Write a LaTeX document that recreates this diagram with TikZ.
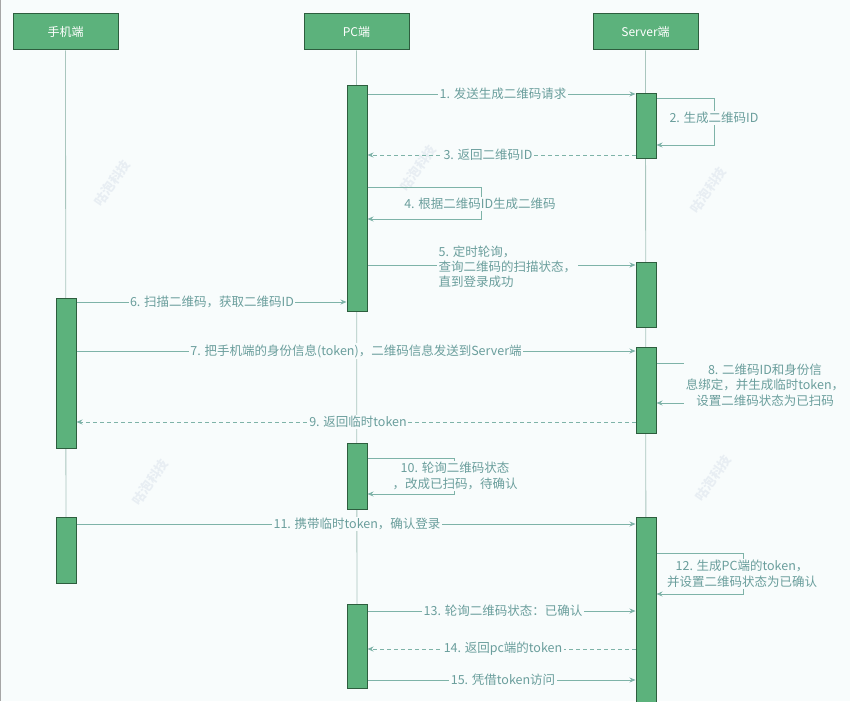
\documentclass[tikz,border=0pt]{standalone}
\usepackage{fontspec}
\setmainfont{Noto Sans CJK SC}
\usetikzlibrary{arrows.meta}
\definecolor{bgc}{HTML}{F8FCFC}
\definecolor{boxf}{HTML}{5CB27C}
\definecolor{boxd}{HTML}{2D5E3E}
\definecolor{lnc}{HTML}{7EB3A8}
\definecolor{txc}{HTML}{6A9E9C}
\definecolor{lfc}{HTML}{A9C6BE}
\definecolor{wmc}{HTML}{E8EEF3}
\begin{document}
\begin{tikzpicture}[x=1pt,y=-1pt,
  head/.style={draw=boxd,fill=boxf,line width=1pt,minimum width=105pt,minimum height=36pt,text=white,font=\fontsize{12}{14}\selectfont,inner sep=0pt},
  bar/.style={draw=boxd,fill=boxf,line width=1pt,minimum width=20pt,inner sep=0pt,anchor=north},
  lbl/.style={fill=bgc,text=txc,font=\fontsize{12.5}{15}\selectfont,inner sep=1.5pt},
  mlbl/.style={lbl,align=center},
  msg/.style={draw=lnc,line width=0.8pt,-{Stealth[length=6pt,width=5pt]}},
  ret/.style={msg,dash pattern=on 4pt off 3pt},
  life/.style={draw=lfc,line width=0.8pt},
  wm/.style={text=wmc,font=\fontsize{13}{15}\selectfont\bfseries,rotate=55}]
\fill[bgc] (0,0) rectangle (850,701);
\useasboundingbox (0,0) rectangle (850,701);
\draw[gray!70,line width=1.2pt] (0.6,0) -- (0.6,701);
% watermarks
\foreach \p in {(112,183),(418,168),(708,190),(150,482),(713,478)}
  \node[wm] at \p {咕泡科技};
% headers
\node[head] (ph) at (65.5,32) {手机端};
\node[head] (pc) at (356.5,32) {PC端};
\node[head] (sv) at (645.5,32) {Server端};
% lifelines
\coordinate (phend) at (66,583);
\coordinate (pcend) at (357,688);
\coordinate (svend) at (646,701);
\draw[life] (ph.south) -- (phend);
\draw[life] (pc.south) -- (pcend);
\draw[life] (sv.south) -- (svend);
% activation bars
\node[bar,minimum height=226pt] (pc1) at (357,85) {};
\node[bar,minimum height=65pt] (sv1) at (646,93) {};
\node[bar,minimum height=65pt] (sv2) at (646,262) {};
\node[bar,minimum height=150pt] (ph1) at (66,298) {};
\node[bar,minimum height=86pt] (sv3) at (646,347) {};
\node[bar,minimum height=66pt] (pc2) at (357,443) {};
\node[bar,minimum height=66pt] (ph2) at (66,517) {};
\node[bar,minimum height=200pt] (sv4) at (646,517) {};
\node[bar,minimum height=84pt] (pc3) at (357,604) {};
% 1
\draw[msg] (pc1.east |- 0,94) -- (sv1.west |- 0,94);
\node[lbl] (l1) at (503,94) {1. 发送生成二维码请求};
% 2
\draw[msg] (sv1.east |- 0,98) -- (714,98) |- (sv1.east |- 0,145);
\node[lbl] (l2) at (714,118) {2. 生成二维码ID};
% 3
\draw[ret] (sv1.west |- 0,155) -- (pc1.east |- 0,155);
\node[lbl] (l3) at (488,155) {3. 返回二维码ID};
% 4
\draw[msg] (pc1.east |- 0,187) -- (481,187) |- (pc1.east |- 0,219);
\node[lbl] (l4) at (480,204) {4. 根据二维码ID生成二维码};
% 5
\draw[msg] (pc1.east |- 0,265) -- (sv2.west |- 0,265);
\node[lbl,align=left,anchor=west,font=\fontsize{12.5}{15}\selectfont] (l5) at (437,267) {5. 定时轮询，\\查询二维码的扫描状态，\\直到登录成功};
% 6
\draw[msg] (ph1.east |- 0,302) -- (pc1.west |- 0,302);
\node[lbl] (l6) at (212,302) {6. 扫描二维码，获取二维码ID};
% 7
\draw[msg] (ph1.east |- 0,351) -- (sv3.west |- 0,351);
\node[lbl] (l7) at (356,351) {7. 把手机端的身份信息(token)，二维码信息发送到Server端};
% 8
\draw[msg] (sv3.east |- 0,363) -- (688,363) |- (sv3.east |- 0,403);
\node[mlbl,font=\fontsize{12.5}{15.5}\selectfont] (l8) at (765,385) {8. 二维码ID和身份信\\息绑定，并生成临时token，\\设置二维码状态为已扫码};
% 9
\draw[ret] (sv3.west |- 0,422) -- (ph1.east |- 0,422);
\node[lbl] (l9) at (358,422) {9. 返回临时token};
% 10
\draw[msg] (pc2.east |- 0,458) -- (454,458) |- (pc2.east |- 0,494);
\node[mlbl,font=\fontsize{12.5}{15.5}\selectfont] (l10) at (455,476) {10. 轮询二维码状态\\，改成已扫码，待确认};
% 11
\draw[msg] (ph2.east |- 0,524) -- (sv4.west |- 0,524);
\node[lbl] (l11) at (357,524) {11. 携带临时token，确认登录};
% 12
\draw[msg] (sv4.east |- 0,553) -- (743,553) |- (sv4.east |- 0,594);
\node[mlbl,font=\fontsize{12.5}{16}\selectfont] (l12) at (742,574) {12. 生成PC端的token，\\并设置二维码状态为已确认};
% 13
\draw[msg] (pc3.east |- 0,611) -- (sv4.west |- 0,611);
\node[lbl] (l13) at (503,611) {13. 轮询二维码状态：已确认};
% 14
\draw[ret] (sv4.west |- 0,649) -- (pc3.east |- 0,649);
\node[lbl] (l14) at (503,649) {14. 返回pc端的token};
% 15
\draw[msg] (pc3.east |- 0,680) -- (sv4.west |- 0,680);
\node[lbl] (l15) at (503,680) {15. 凭借token访问};
\end{tikzpicture}
\end{document}
